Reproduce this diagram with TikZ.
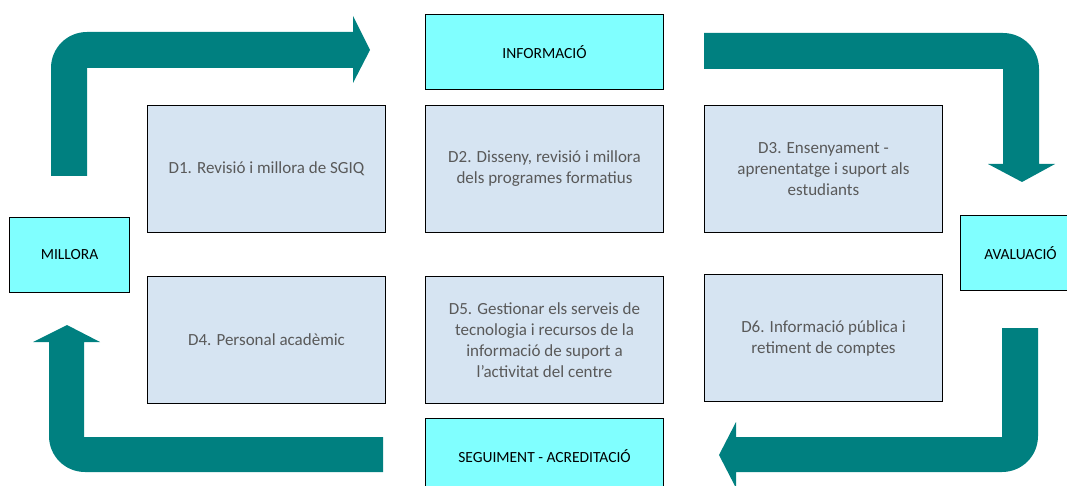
\documentclass[tikz,border=0pt]{standalone}
\usepackage{fontspec}
\setmainfont{Carlito}
\definecolor{arrowc}{HTML}{008080}
\definecolor{cyanbox}{HTML}{80FFFF}
\definecolor{bluebox}{HTML}{D6E4F2}
\definecolor{dtext}{HTML}{595959}
\begin{document}
\begin{tikzpicture}[x=1pt,y=-1pt,
  phase/.style={draw=black,line width=1pt,fill=cyanbox,minimum width=120pt,minimum height=75pt,inner sep=0pt,font=\fontsize{15.5}{18}\selectfont,text=black,anchor=north west},
  dbox/.style={draw=black,line width=1pt,fill=bluebox,minimum width=238pt,minimum height=127pt,inner sep=0pt,font=\fontsize{17}{21}\selectfont,text=dtext,align=center,anchor=north west},
  bigarrow/.style={fill=arrowc,draw=none}]
\useasboundingbox (0,0) rectangle (1067,486);
\begin{scope}
\clip (0,0) rectangle (1067,486);
% arrows
\fill[bigarrow] (51,176) -- (51,68) .. controls (51,48) and (67,32) .. (87,32) -- (353,32) -- (353,16) -- (370,50) -- (353,83) -- (353,68) -- (87,68) -- (87,176) -- cycle;
\fill[bigarrow] (704,33) -- (1003,33) .. controls (1023,33) and (1039,49) .. (1039,69) -- (1039,164) -- (1055,164) -- (1022,182) -- (988,164) -- (1003,164) -- (1003,69) -- (704,69) -- cycle;
\fill[bigarrow] (1002,328) -- (1038,328) -- (1038,436) .. controls (1038,456) and (1022,472) .. (1002,472) -- (736,472) -- (736,488) -- (719,455) -- (736,422) -- (736,437) -- (1002,437) -- cycle;
\fill[bigarrow] (383,437) -- (383,472) -- (85,472) .. controls (65,472) and (49,456) .. (49,436) -- (49,342) -- (33,342) -- (67,325) -- (100,342) -- (84,342) -- (84,437) -- cycle;
% phase boxes
\node[phase, minimum width=238pt] (info) at (425,14) {INFORMACIÓ};
\node[phase] (aval) at (960,215) {AVALUACIÓ};
\node[phase, minimum width=238pt] (seg) at (425,418) {SEGUIMENT - ACREDITACIÓ};
\node[phase] (mill) at (9,217) {MILLORA};
% D boxes
\node[dbox] (d1) at (147,105) {D1. Revisió i millora de SGIQ};
\node[dbox] (d2) at (425,105) {D2. Disseny, revisió i millora\\dels programes formatius};
\node[dbox] (d3) at (704,105) {D3. Ensenyament -\\aprenentatge i suport als\\estudiants};
\node[dbox] (d4) at (147,276) {D4. Personal acadèmic};
\node[dbox] (d5) at (425,276) {D5. Gestionar els serveis de\\tecnologia i recursos de la\\informació de suport a\\l’activitat del centre};
\node[dbox] (d6) at (704,274) {D6. Informació pública i\\retiment de comptes};
\end{scope}
\end{tikzpicture}
\end{document}
